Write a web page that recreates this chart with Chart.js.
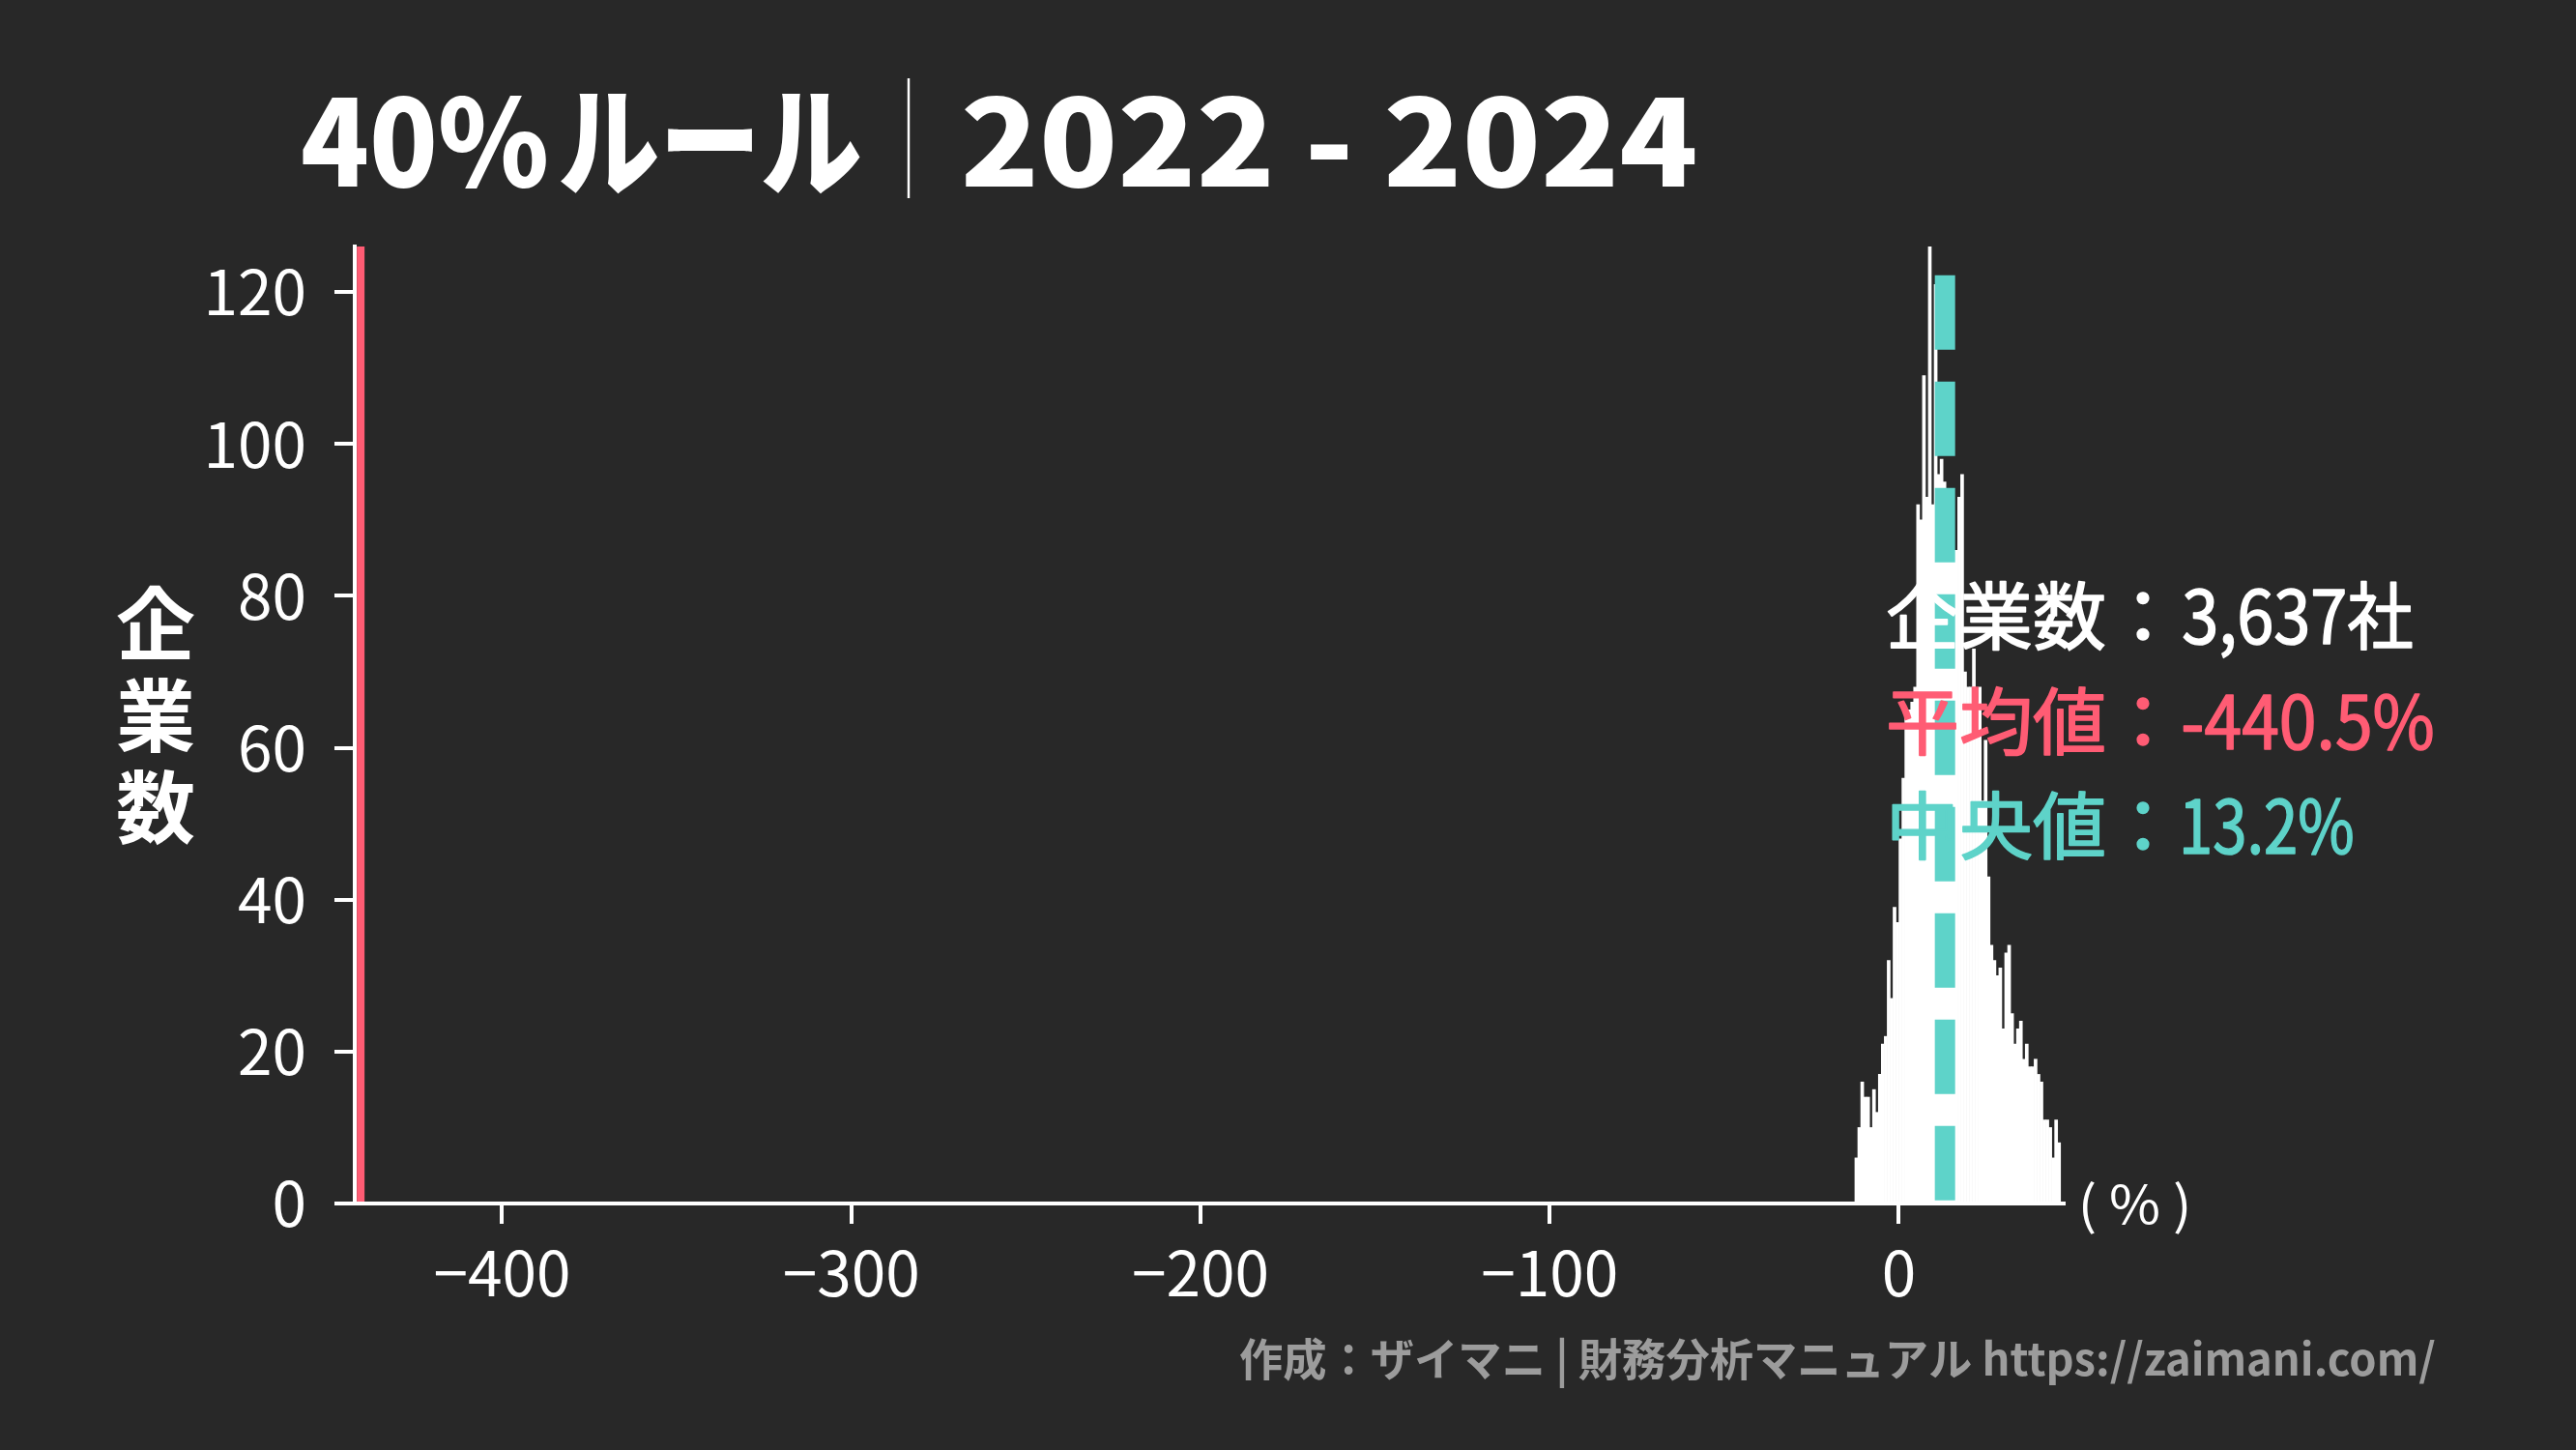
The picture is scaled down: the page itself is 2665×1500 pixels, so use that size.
<!DOCTYPE html>
<html lang="ja">
<head>
<meta charset="utf-8">
<title>40%ルール｜2022 - 2024</title>
<script src="https://cdn.jsdelivr.net/npm/chart.js@4.4.1/dist/chart.umd.min.js"></script>
<style>
    html, body {
        margin: 0;
        padding: 0;
        background: #282828;
    }

    canvas {
        display: block;
    }
</style>
</head>
<body>
<canvas id="ruleOf40Chart" width="2665" height="1500"></canvas>
<script>
// histogram bins (percent), 70 bins of equal width
const binStart = -12.6;
const binWidth = 0.8414;
const companyCounts = [
    6, 10, 16, 14, 14, 10, 15, 12, 17, 21,
    22, 32, 27, 39, 37, 48, 56, 65, 65, 66,
    68, 92, 90, 109, 93, 126, 92, 121, 96, 98,
    95, 90, 88, 86, 86, 93, 96, 70, 68, 68,
    73, 66, 68, 53, 61, 43, 34, 32, 30, 31,
    23, 33, 34, 25, 21, 23, 24, 19, 21, 18,
    18, 19, 17, 16, 11, 11, 10, 6, 11, 8
];

const xTickValues = [-400, -300, -200, -100, 0];
const xTickLabels = ['−400', '−300', '−200', '−100', '0'];
const yTickValues = [0, 20, 40, 60, 80, 100, 120];

const meanValue = -440.5;
const medianValue = 13.2;
const yMax = 126;

const titleParts = ['40%', 'ルール', '｜', '2022 - 2024'];
const yAxisTitle = ['企', '業', '数'];
const summaryLabels = ['企業数：', '平均値：', '中央値：'];
const summaryValues = ['3,637社', '-440.5%', '13.2%'];
const unitText = '( % )';
const creditText = '作成：ザイマニ | 財務分析マニュアル https://zaimani.com/';

document.addEventListener('DOMContentLoaded', function () {
    const canvas = document.getElementById('ruleOf40Chart');
    const cjkFont = '"Noto Sans CJK JP", "Noto Sans", sans-serif';
    const white = '#ffffff';
    const pink = '#ff5c74';
    const teal = '#5ed3c9';

    const histogramPoints = companyCounts.map(function (count, index) {
        return { x: binStart + binWidth * (index + 0.5), y: count };
    });

    // draw text so that its ink spans from left to right (squeezed horizontally when needed)
    function fillFitted(ctx, text, left, right, baseline, strokeWidth) {
        const m = ctx.measureText(text);
        const ink = m.actualBoundingBoxLeft + m.actualBoundingBoxRight;
        const sx = ink > 0 ? (right - left) / ink : 1;
        ctx.save();
        ctx.translate(left + m.actualBoundingBoxLeft * sx, baseline);
        ctx.scale(sx, 1);
        ctx.fillText(text, 0, 0);
        if (strokeWidth) {
            ctx.strokeStyle = ctx.fillStyle;
            ctx.lineWidth = strokeWidth;
            ctx.strokeText(text, 0, 0);
        }
        ctx.restore();
    }

    const overlayText = {
        id: 'overlayText',
        afterDraw: function (chart) {
            const ctx = chart.ctx;
            ctx.save();
            ctx.textAlign = 'left';
            ctx.textBaseline = 'alphabetic';

            // title
            ctx.fillStyle = white;
            ctx.font = '900 124px ' + cjkFont;
            fillFitted(ctx, titleParts[0], 313, 565, 193);
            fillFitted(ctx, titleParts[1], 580, 890, 193);
            ctx.font = '300 124px ' + cjkFont;
            fillFitted(ctx, titleParts[2], 938.5, 941.5, 190);
            ctx.font = '900 124px ' + cjkFont;
            fillFitted(ctx, titleParts[3], 998, 1754, 193);

            // vertical y axis title
            ctx.font = 'bold 82px ' + cjkFont;
            ctx.textAlign = 'center';
            ctx.textBaseline = 'middle';
            yAxisTitle.forEach(function (ch, i) {
                ctx.fillText(ch, 161, 645 + i * 95);
            });

            // summary box
            ctx.textAlign = 'left';
            ctx.textBaseline = 'alphabetic';
            ctx.font = '76px ' + cjkFont;
            ctx.lineJoin = 'round';
            const colors = [white, pink, teal];
            const baselines = [666, 775, 883];
            const valueEnds = [2495, 2517, 2434];
            summaryLabels.forEach(function (label, i) {
                ctx.fillStyle = colors[i];
                ctx.strokeStyle = colors[i];
                ctx.lineWidth = 1.6;
                ctx.fillText(label, 1951, baselines[i]);
                ctx.strokeText(label, 1951, baselines[i]);
                fillFitted(ctx, summaryValues[i], 2259, valueEnds[i], baselines[i], 1.6);
            });

            // unit label next to the x axis
            ctx.fillStyle = white;
            ctx.font = '54px ' + cjkFont;
            fillFitted(ctx, unitText, 2154, 2263, 1266);

            // credit
            ctx.fillStyle = '#9c9c9c';
            ctx.font = 'bold 46px ' + cjkFont;
            fillFitted(ctx, creditText, 1283, 2519, 1423);

            ctx.restore();
        }
    };

    new Chart(canvas, {
        type: 'bar',
        data: {
            datasets: [
                {
                    type: 'line',
                    data: [{ x: meanValue, y: 0 }, { x: meanValue, y: yMax }],
                    borderColor: pink,
                    borderWidth: 8,
                    pointRadius: 0,
                    order: 1
                },
                {
                    type: 'line',
                    data: [{ x: medianValue, y: yMax * 0.97 }, { x: medianValue, y: 0 }],
                    borderColor: teal,
                    borderWidth: 21,
                    borderDash: [77, 33],
                    borderCapStyle: 'butt',
                    pointRadius: 0,
                    order: 0
                },
                {
                    data: histogramPoints,
                    backgroundColor: white,
                    borderWidth: 0,
                    barPercentage: 1,
                    categoryPercentage: 1,
                    order: 2
                }
            ]
        },
        options: {
            responsive: false,
            devicePixelRatio: 1,
            animation: false,
            layout: {
                padding: { top: 255, right: 530, bottom: 0, left: 0 }
            },
            plugins: {
                legend: { display: false },
                title: { display: false },
                tooltip: { enabled: false }
            },
            scales: {
                x: {
                    type: 'linear',
                    min: -442.2,
                    max: 47.2,
                    offset: false,
                    afterFit: function (scale) {
                        scale.height = 255;
                    },
                    afterBuildTicks: function (scale) {
                        scale.ticks = xTickValues.map(function (v) {
                            return { value: v };
                        });
                    },
                    border: { display: true, color: white, width: 4, z: 1 },
                    grid: {
                        offset: false,
                        drawOnChartArea: false,
                        drawTicks: true,
                        tickLength: 21,
                        tickWidth: 4,
                        tickColor: white,
                        lineWidth: 4
                    },
                    ticks: {
                        color: white,
                        padding: 12,
                        maxRotation: 0,
                        font: { family: cjkFont, size: 64 },
                        callback: function (value, index) {
                            return xTickLabels[index];
                        }
                    }
                },
                y: {
                    min: 0,
                    max: yMax,
                    afterFit: function (scale) {
                        scale.width = 367;
                    },
                    afterBuildTicks: function (scale) {
                        scale.ticks = yTickValues.map(function (v) {
                            return { value: v };
                        });
                    },
                    border: { display: true, color: white, width: 4 },
                    grid: {
                        drawOnChartArea: false,
                        drawTicks: true,
                        tickLength: 21,
                        tickWidth: 4,
                        tickColor: white,
                        lineWidth: 4
                    },
                    ticks: {
                        color: white,
                        padding: 29,
                        font: { family: cjkFont, size: 64 }
                    }
                }
            }
        },
        plugins: [overlayText]
    });
});
</script>
</body>
</html>
